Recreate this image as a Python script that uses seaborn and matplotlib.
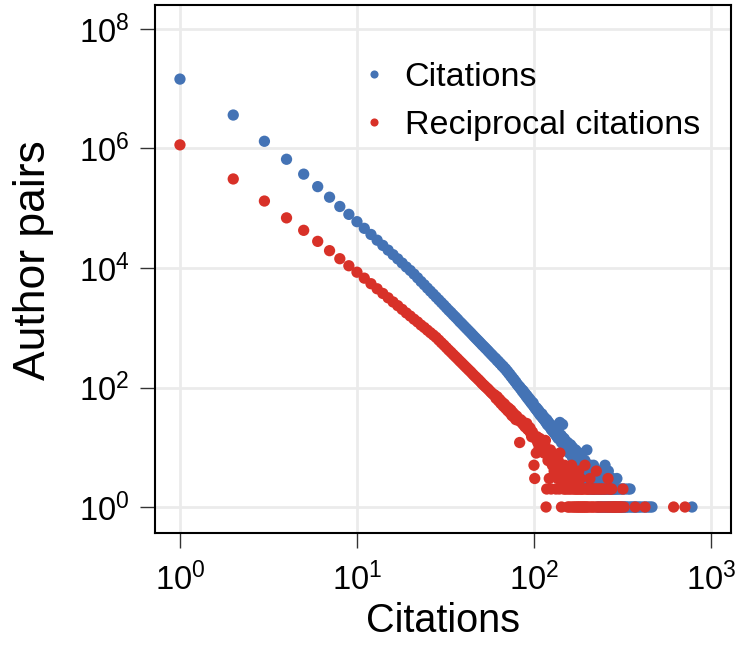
import numpy as np
import pandas as pd
import matplotlib
matplotlib.use("Agg")
import matplotlib.pyplot as plt
import seaborn as sns
from matplotlib.ticker import FixedLocator, NullLocator

# author pairs with exactly k citations, k = 1..200 (every k present)
cit_counts = [
    14500000, 3630000, 1320000, 660000, 372000, 230000, 153000, 107000, 79000, 59600,
    46100, 36400, 29200, 23900, 19900, 16700, 14200, 12100, 10400, 9100,
    7900, 6850, 5940, 5240, 4610, 4090, 3650, 3260, 2930, 2640,
    2390, 2160, 1960, 1800, 1640, 1510, 1390, 1270, 1180, 1090,
    1010, 940, 875, 817, 760, 708, 664, 623, 585, 550,
    515, 488, 460, 435, 411, 388, 367, 349, 330, 314,
    302, 281, 274, 255, 248, 230, 227, 210, 206, 190,
    186, 171, 168, 154, 151, 139, 137, 126, 124, 114,
    111, 104, 103, 95, 94, 86, 88, 79, 80, 72,
    74, 66, 68, 61, 63, 56, 58, 52, 55, 48,
    47, 44, 46, 41, 43, 38, 40, 35, 37, 33,
    36, 31, 30, 32, 28, 30, 26, 29, 24, 27,
    23, 25, 22, 24, 20, 23, 19, 21, 18, 20,
    17, 21, 16, 18, 15, 19, 14, 17, 15, 26,
    14, 16, 12, 15, 24, 13, 11, 14, 12, 13,
    10, 12, 11, 9, 12, 10, 11, 8, 10, 9,
    11, 8, 9, 7, 10, 8, 7, 9, 6, 8,
    7, 9, 6, 7, 5, 8, 6, 7, 5, 6,
    8, 5, 6, 4, 7, 5, 6, 4, 5, 6,
    4, 5, 3, 6, 4, 5, 3, 4, 9, 4,
]
# sparse tail beyond 200 citations
cit_tail_x = [
    201, 202, 203, 204, 205, 206, 207, 208, 209, 210,
    211, 212, 213, 214, 215, 216, 217, 218, 219, 220,
    221, 222, 223, 224, 225, 226, 227, 228, 229, 230,
    231, 232, 233, 234, 235, 236, 237, 238, 239, 240,
    241, 242, 243, 244, 245, 246, 247, 248, 249, 250,
    252, 253, 254, 255, 256, 257, 258, 259, 260, 261,
    263, 264, 265, 266, 267, 268, 270, 271, 272, 273,
    275, 276, 278, 279, 280, 282, 283, 285, 287, 288,
    290, 291, 294, 295, 297, 299, 301, 303, 305, 308,
    310, 312, 315, 318, 320, 324, 327, 331, 335, 340,
    344, 349, 353, 360, 368, 375, 383, 392, 402, 415,
    428, 440, 452, 464, 781,
]
cit_tail_y = [
    3, 5, 4, 2, 3, 4, 3, 5, 2, 3,
    4, 2, 3, 4, 2, 3, 5, 2, 3, 4,
    2, 3, 2, 4, 3, 2, 3, 1, 2, 4,
    3, 2, 1, 3, 2, 4, 2, 1, 3, 2,
    3, 1, 2, 4, 2, 1, 3, 2, 1, 2,
    5, 2, 1, 3, 2, 1, 4, 2, 1, 2,
    4, 1, 2, 3, 1, 2, 1, 3, 2, 1,
    2, 1, 3, 1, 2, 1, 2, 1, 2, 1,
    1, 2, 3, 1, 2, 1, 1, 2, 1, 1,
    2, 1, 1, 2, 1, 1, 2, 1, 1, 2,
    1, 2, 1, 1, 1, 1, 1, 1, 1, 1,
    1, 1, 1, 1, 1,
]

# reciprocal citations, k = 1..188 (every k present)
rec_counts = [
    1150000, 309000, 132000, 69000, 42700, 27900, 19500, 14300, 10900, 8500,
    6760, 5460, 4490, 3750, 3170, 2700, 2340, 2030, 1770, 1570,
    1390, 1250, 1110, 1010, 910, 826, 755, 690, 622, 562,
    512, 465, 423, 389, 356, 328, 303, 279, 259, 240,
    223, 208, 194, 182, 169, 158, 149, 140, 132, 124,
    116, 110, 104, 99, 94, 89, 84, 80, 76, 75,
    66, 70, 60, 63, 54, 57, 49, 53, 45, 48,
    41, 45, 38, 42, 34, 38, 32, 35, 29, 33,
    30, 28, 12, 29, 26, 27, 24, 25, 22, 24,
    25, 20, 22, 19, 21, 17, 15, 18, 16, 5,
    3, 14, 8, 15, 12, 13, 10, 14, 11, 12,
    9, 11, 10, 8, 11, 13, 1, 2, 9, 6,
    8, 3, 7, 9, 2, 8, 5, 7, 6, 4,
    7, 5, 2, 4, 5, 3, 6, 4, 2, 8,
    3, 4, 1, 5, 3, 4, 2, 3, 5, 2,
    4, 3, 2, 4, 1, 3, 2, 1, 3, 2,
    4, 1, 5, 2, 3, 1, 4, 2, 1, 3,
    2, 1, 2, 3, 1, 2, 1, 2, 4, 1,
    2, 1, 3, 2, 1, 2, 1, 2,
]
rec_tail_x = [
    190, 191, 192, 194, 195, 196, 197, 199, 200, 201,
    203, 205, 207, 208, 210, 212, 214, 216, 218, 220,
    222, 225, 226, 228, 230, 233, 235, 238, 240, 243,
    246, 249, 252, 255, 258, 262, 263, 266, 268, 271,
    274, 275, 278, 282, 286, 290, 294, 298, 303, 308,
    313, 318, 323, 373, 424, 615, 713,
]
rec_tail_y = [
    1, 2, 1, 5, 1, 2, 1, 2, 1, 2,
    1, 2, 3, 1, 2, 1, 2, 1, 2, 1,
    2, 4, 1, 2, 1, 2, 1, 2, 1, 2,
    1, 2, 1, 2, 1, 3, 1, 2, 1, 2,
    1, 2, 1, 1, 1, 1, 1, 1, 1, 1,
    1, 2, 1, 1, 1, 1, 1,
]

series_names = ["Citations", "Reciprocal citations"]
colors = ["#4473b5", "#d83128"]

# %%
cit = pd.DataFrame({
    "citations": list(range(1, len(cit_counts) + 1)) + cit_tail_x,
    "pairs": cit_counts + cit_tail_y,
})
cit["kind"] = series_names[0]
rec = pd.DataFrame({
    "citations": list(range(1, len(rec_counts) + 1)) + rec_tail_x,
    "pairs": rec_counts + rec_tail_y,
})
rec["kind"] = series_names[1]
df = pd.concat([cit, rec], ignore_index=True)

sns.set_style("white")
plt.rcParams["font.family"] = ["Liberation Sans", "DejaVu Sans"]
plt.rcParams["mathtext.default"] = "regular"
plt.rcParams["text.color"] = "black"
plt.rcParams["axes.labelcolor"] = "black"
plt.rcParams["xtick.color"] = "black"
plt.rcParams["ytick.color"] = "black"

fig = plt.figure(figsize=(7.38, 6.57), dpi=100)
ax = fig.add_axes([0.21, 0.1887, 0.7805, 0.8037])

sns.scatterplot(
    data=df,
    x="citations",
    y="pairs",
    hue="kind",
    hue_order=series_names,
    palette=colors,
    s=66,
    linewidth=0,
    alpha=1,
    ax=ax,
)

ax.set_xscale("log")
ax.set_yscale("log")
ax.set_xlim(0.7226, 1297)
ax.set_ylim(0.367, 2.52e8)
ax.yaxis.set_major_locator(FixedLocator([1, 1e2, 1e4, 1e6, 1e8]))
ax.xaxis.set_major_locator(FixedLocator([1, 10, 100, 1000]))
ax.xaxis.set_minor_locator(NullLocator())
ax.yaxis.set_minor_locator(NullLocator())

ax.grid(True, which="major", color="#ebebeb", linewidth=2)
ax.set_axisbelow(True)
for sp in ax.spines.values():
    sp.set_visible(True)
    sp.set_color("black")
    sp.set_linewidth(1.5)

ax.tick_params(axis="both", which="major", direction="out", length=10.5,
               width=1, color="#333333", labelsize=23.5, labelcolor="black",
               bottom=True, left=True, top=False, right=False)
ax.tick_params(axis="x", pad=11)
ax.tick_params(axis="y", pad=8)

ax.set_xlabel("Citations", fontsize=28.5, labelpad=3)
ax.set_ylabel("Author pairs", fontsize=32)
ax.yaxis.set_label_coords(-0.175, 0.517)

sns.move_legend(
    ax,
    loc="upper left",
    bbox_to_anchor=(0.327, 0.925),
    title=None,
    frameon=False,
    fontsize=24.5,
    markerscale=0.72,
    handlelength=0.8,
    handletextpad=0.5,
    borderpad=0,
    labelspacing=0.5,
)

fig.savefig("out.png", dpi=100)
